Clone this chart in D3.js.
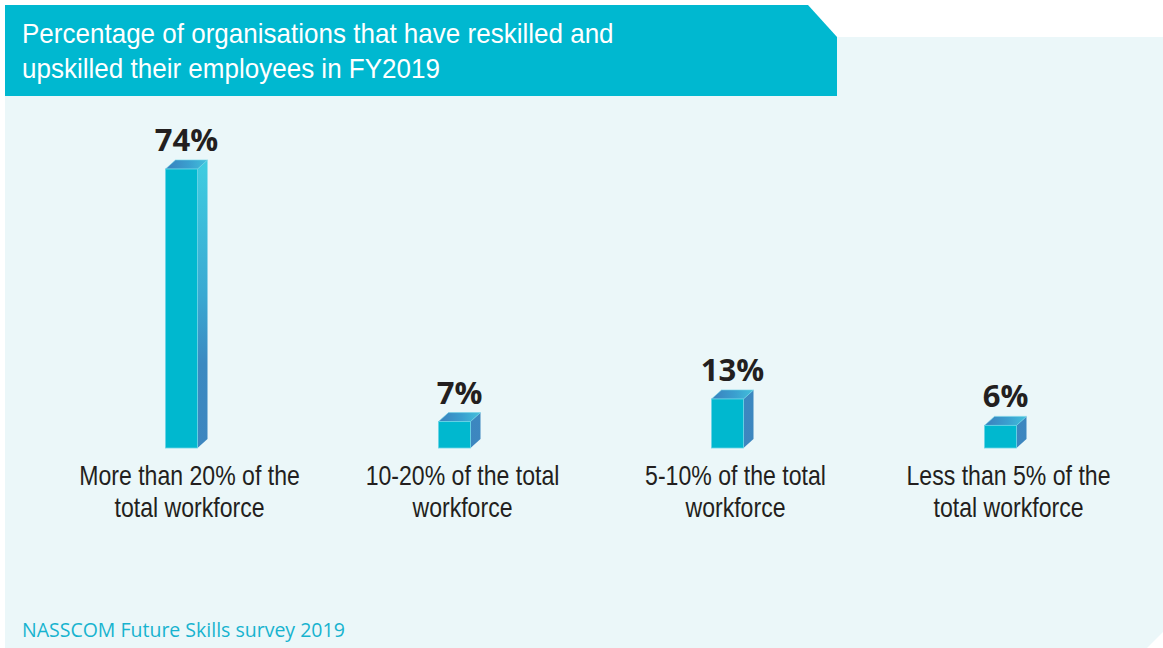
<!DOCTYPE html>
<html>
<head>
<meta charset="utf-8">
<script src="https://cdn.jsdelivr.net/npm/d3@7"></script>
<style>
  html, body { margin: 0; padding: 0; background: #ffffff; }
  svg { display: block; }
</style>
</head>
<body>
<svg id="chart" width="1163" height="648"></svg>
<script>
// Survey result: share of organisations by portion of workforce reskilled
const titleLines = [
  "Percentage of organisations that have reskilled and",
  "upskilled their employees in FY2019"
];
const categories = [
  ["More than 20% of the", "total workforce"],
  ["10-20% of the total", "workforce"],
  ["5-10% of the total", "workforce"],
  ["Less than 5% of the", "total workforce"]
];
const values = [74, 7, 13, 6];
const sourceText = "NASSCOM Future Skills survey 2019";

const W = 1163, H = 648;
const svg = d3.select("#chart");
const defs = svg.append("defs");

// condensed-looking sans: horizontally squeezed regular face
const narrowFont = "'Liberation Sans Narrow', 'Arial Narrow', 'Liberation Sans', Arial, sans-serif";

// background panel with clipped bottom-right corner
svg.append("path")
  .attr("d", `M5,37 H${W} V${H - 16} L${W - 16},${H} H5 Z`)
  .attr("fill", "#ebf7f9");

// title banner with slanted right edge
svg.append("path")
  .attr("d", "M5,5 H808 L837,37 V96 H5 Z")
  .attr("fill", "#00b8d0");

svg.append("g").selectAll("text")
  .data(titleLines)
  .join("text")
  .attr("transform", (d, i) => `translate(22,${43 + i * 35}) scale(0.93,1)`)
  .attr("fill", "#ffffff")
  .attr("font-family", narrowFont)
  .attr("font-size", 28)
  .text(d => d);

// scales
const x = d3.scaleBand()
  .domain(d3.range(categories.length))
  .range([50, 1142])
  .paddingInner(0)
  .paddingOuter(0);

const y = d3.scaleLinear().domain([0, 100]).range([448, 71]);

const barW = 32, dx = 10, dy = 9;

// gradients for the 3D faces
const sideGrad = defs.append("linearGradient")
  .attr("id", "sideGrad")
  .attr("gradientUnits", "userSpaceOnUse")
  .attr("x1", 0).attr("y1", y(74)).attr("x2", 0).attr("y2", y(0));
sideGrad.append("stop").attr("offset", "0%").attr("stop-color", "#3ecbe0");
sideGrad.append("stop").attr("offset", "45%").attr("stop-color", "#3aa9d2");
sideGrad.append("stop").attr("offset", "70%").attr("stop-color", "#3b89c1");
sideGrad.append("stop").attr("offset", "100%").attr("stop-color", "#3d86bf");

const topGrad = defs.append("linearGradient")
  .attr("id", "topGrad")
  .attr("x1", 0).attr("y1", 0).attr("x2", 1).attr("y2", 0);
topGrad.append("stop").attr("offset", "0%").attr("stop-color", "#3a80bd");
topGrad.append("stop").attr("offset", "55%").attr("stop-color", "#3a9fcf");
topGrad.append("stop").attr("offset", "100%").attr("stop-color", "#42c0dc");

const bars = svg.append("g").selectAll("g.bar")
  .data(values)
  .join("g")
  .attr("class", "bar");

const center = i => x(i) + x.bandwidth() / 2;
const left = (d, i) => center(i) - (barW + dx) / 2;

// side face
bars.append("path")
  .attr("d", (d, i) => {
    const x0 = left(d, i) + barW, yt = y(d), yb = y(0);
    return `M${x0},${yt} L${x0 + dx},${yt - dy} L${x0 + dx},${yb - dy} L${x0},${yb} Z`;
  })
  .attr("fill", "url(#sideGrad)");

// top face
bars.append("path")
  .attr("d", (d, i) => {
    const x0 = left(d, i), yt = y(d);
    return `M${x0},${yt} L${x0 + dx},${yt - dy} L${x0 + barW + dx},${yt - dy} L${x0 + barW},${yt} Z`;
  })
  .attr("fill", "url(#topGrad)")
  .attr("stroke", "#6fd3e6")
  .attr("stroke-width", 0.6);

// front face
bars.append("rect")
  .attr("x", (d, i) => left(d, i))
  .attr("y", d => y(d))
  .attr("width", barW)
  .attr("height", d => y(0) - y(d))
  .attr("fill", "#00b8cf")
  .attr("stroke", "#6ad4e6")
  .attr("stroke-width", 0.8);

// value labels
bars.append("text")
  .attr("x", (d, i) => center(i))
  .attr("y", d => y(d) - dy - 9)
  .attr("text-anchor", "middle")
  .attr("font-family", "'Open Sans', sans-serif")
  .attr("font-weight", 700)
  .attr("font-size", 31)
  .attr("fill", "#231f20")
  .text(d => d + "%");

// category labels
const catG = svg.append("g").selectAll("text")
  .data(categories)
  .join("text")
  .attr("transform", (d, i) => `translate(${center(i) + 3},0) scale(0.855,1)`)
  .attr("text-anchor", "middle")
  .attr("font-family", narrowFont)
  .attr("font-size", 27)
  .attr("fill", "#231f20");

catG.selectAll("tspan")
  .data(d => d)
  .join("tspan")
  .attr("x", 0)
  .attr("y", (d, j) => 485 + j * 32)
  .text(d => d);

// source note
svg.append("text")
  .attr("x", 22)
  .attr("y", 637)
  .attr("font-family", "'Open Sans', sans-serif")
  .attr("font-size", 19.5)
  .attr("fill", "#17b3cf")
  .text(sourceText);
</script>
</body>
</html>
